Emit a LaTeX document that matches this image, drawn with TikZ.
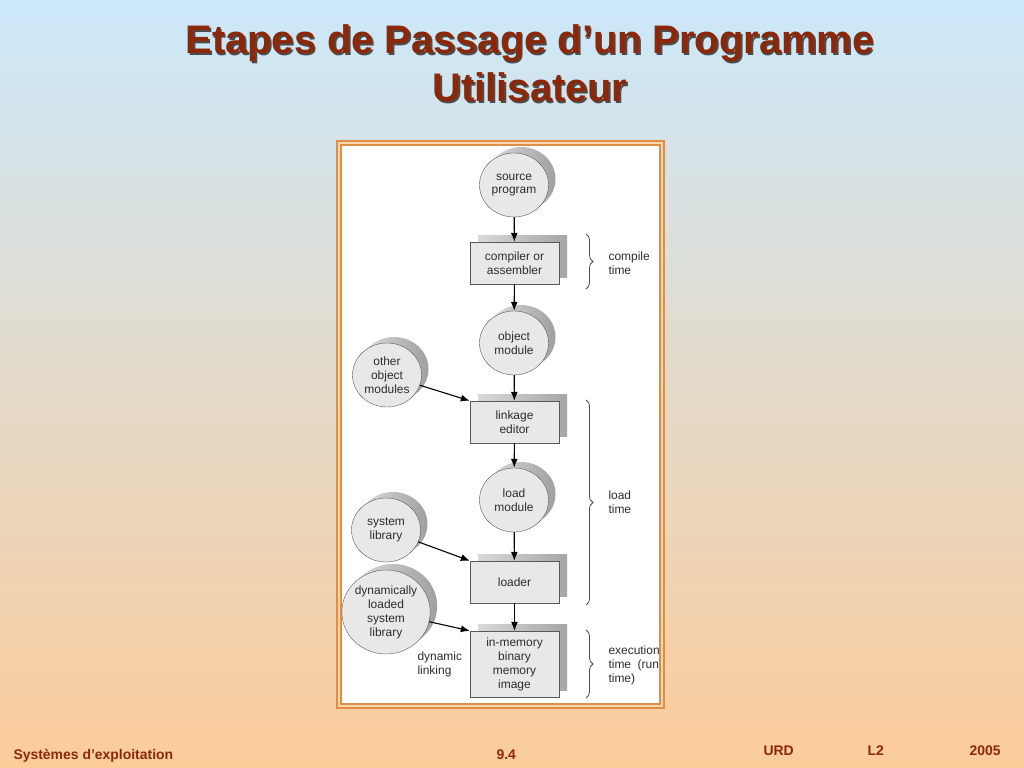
\documentclass[tikz,border=0pt]{standalone}
\usepackage{fontspec}
\setmainfont{Liberation Sans}
\usetikzlibrary{shapes.geometric,arrows.meta,shadows,decorations.pathreplacing}
\definecolor{skytop}{RGB}{204,232,250}
\definecolor{skymid}{RGB}{226,227,229}
\definecolor{peach}{RGB}{252,204,154}
\definecolor{brick}{RGB}{140,40,10}
\definecolor{framec}{RGB}{222,142,72}
\definecolor{framefill}{RGB}{248,214,170}
\definecolor{ink}{RGB}{45,45,45}
\definecolor{panel}{RGB}{232,232,232}
\begin{document}
\begin{tikzpicture}[x=1bp,y=-1bp,
    blob/.style={ellipse,draw=gray!70!black,fill=panel,minimum width=69bp,minimum height=64bp,
        inner sep=0pt,align=center,text=ink,font=\fontsize{12}{14}\selectfont,
        general shadow={shadow xshift=7bp,shadow yshift=6bp,left color=gray!25,right color=gray!75}},
    stage/.style={rectangle,draw=gray!70!black,fill=panel,minimum width=89bp,minimum height=42bp,
        inner sep=0pt,align=center,text=ink,font=\fontsize{12}{14}\selectfont,
        general shadow={shadow xshift=8bp,shadow yshift=7bp,left color=gray!30,right color=gray!70}},
    flow/.style={draw=black,line width=1.1bp,-{Latex[length=9bp,width=7bp]}},
    span/.style={draw=gray!60!black,line width=0.8bp,decorate,decoration={brace,amplitude=7bp}},
    note/.style={align=left,anchor=west,text=ink,font=\fontsize{12}{14}\selectfont},
    foot/.style={anchor=base west,text=brick,font=\fontsize{14}{16}\selectfont\bfseries},
    heading/.style={anchor=base,font=\fontsize{40}{44}\selectfont\bfseries}]

        \useasboundingbox (0,0) rectangle (1024,768);
        \shade[top color=skytop,middle color=skymid,bottom color=peach] (0,0) rectangle (1024,768);

        % title
        \node[heading,text=black!70] (t1s) at (531.8,55.8) {Etapes de Passage d’un Programme};
        \node[heading,text=brick] (t1) at (530,54) {Etapes de Passage d’un Programme};
        \node[heading,text=black!70] (t2s) at (531.8,103.8) {Utilisateur};
        \node[heading,text=brick] (t2) at (530,102) {Utilisateur};

        % frame
        \draw[framec,line width=2bp,fill=framefill] (337,141) rectangle (664,708);
        \draw[framec,line width=1.2bp,fill=white] (341,145) rectangle (660,704);

        \node[blob] (src) at (514,185) {source\\program};
        \node[stage] (comp) at (514.5,263) {compiler or\\assembler};
        \node[blob] (obj) at (514,343) {object\\module};
        \node[blob] (oth) at (387,375) {other\\object\\modules};
        \node[stage] (link) at (514.5,422) {linkage\\editor};
        \node[blob] (load) at (514,500) {load\\module};
        \node[blob] (sys) at (386,530) {system\\library};
        \node[stage] (ldr) at (514.5,582) {loader};
        \node[blob,minimum width=86bp,minimum height=84bp] (dyn) at (386,612) {dynamically\\loaded\\system\\library};
        \node[stage,minimum height=66bp] (mem) at (514.5,664) {in-memory\\binary\\memory\\image};

        \path[flow] (src) -- (comp);
        \path[flow] (comp) -- (obj);
        \path[flow] (obj) -- (link);
        \path[flow] (oth) -- (link.north west);
        \path[flow] (link) -- (load);
        \path[flow] (load) -- (ldr);
        \path[flow] (sys) -- (ldr.north west);
        \path[flow] (ldr) -- (mem);
        \path[flow] (dyn) -- (mem.north west);

        \node[note] (dl) at (414,664) {dynamic\\linking};

        % time spans
        \draw[span] (586,234) -- (586,289);
        \draw[span] (586,400) -- (586,605);
        \draw[span] (586,630) -- (586,698);
        \node[note] (ct) at (605,263) {compile\\time};
        \node[note] (lt) at (605,502) {load\\time};
        \node[note] (et) at (605,665) {execution\\time~~(run\\time)};

        % footer
        \node[foot] (f1) at (10,759) {Systèmes d’exploitation};
        \node[foot] (f2) at (493,759) {9.4};
        \node[foot] (f3) at (760,755) {URD};
        \node[foot] (f4) at (864,755) {L2};
        \node[foot] (f5) at (966,755) {2005};

    \end{tikzpicture}
\end{document}
